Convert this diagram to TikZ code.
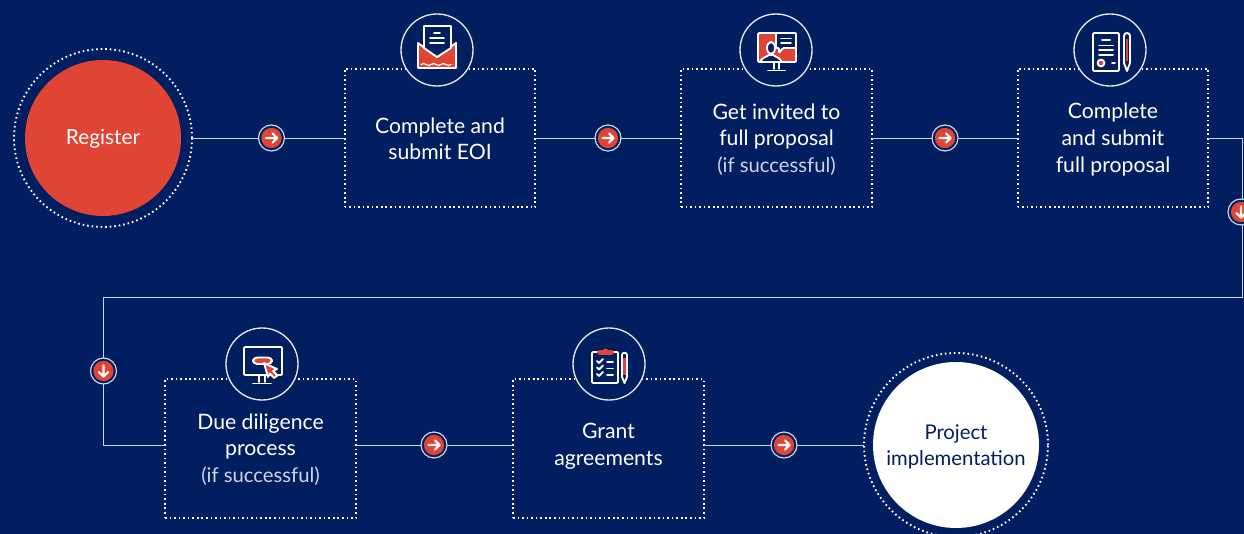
\documentclass[tikz,border=0pt]{standalone}
\usepackage{fontspec}
\setmainfont{Lato}
\definecolor{navy}{RGB}{0,30,96}
\definecolor{redc}{RGB}{224,68,52}
\definecolor{soft}{RGB}{205,212,228}
\tikzset{
  x=0.75pt,y=-0.75pt,
  dots/.style={draw=white,line width=1.4pt,dash pattern=on 1.2pt off 2.2pt},
  stepbox/.style={dots,minimum width=143pt,minimum height=104pt,outer sep=0pt,inner sep=0pt},
  steptext/.style={align=center,text=white,inner sep=0pt,font=\fontsize{15.9}{19.9}\selectfont},
  conn/.style={draw=soft,line width=0.7pt},
  ring/.style={circle,dots,inner sep=0pt,outer sep=0pt},
  disc/.style={circle,inner sep=0pt,outer sep=0pt,minimum size=117pt},
  disctext/.style={align=center,inner sep=0pt,font=\fontsize{15.6}{19.9}\selectfont},
  iconring/.style={circle,draw=white!90!navy,line width=1pt,fill=navy,minimum size=54pt,inner sep=0pt},
  btn/.style={circle,draw=soft,line width=0.9pt,fill=navy,minimum size=19.5pt,inner sep=0pt,outer sep=0pt},
  btnr/.style={btn,path picture={
     \fill[redc] (path picture bounding box.center) circle (7.6pt);
     \draw[white,line width=1.6pt,line cap=round,line join=round,shift={(path picture bounding box.center)}]
       (-4.2pt,0pt)--(4.2pt,0pt) (0.8pt,-3.4pt)--(4.2pt,0pt)--(0.8pt,3.4pt);}},
  btnd/.style={btn,path picture={
     \fill[redc] (path picture bounding box.center) circle (7.6pt);
     \draw[white,line width=1.6pt,line cap=round,line join=round,shift={(path picture bounding box.center)}]
       (0pt,4.2pt)--(0pt,-4.2pt) (-3.4pt,-0.8pt)--(0pt,-4.2pt)--(3.4pt,-0.8pt);}},
  wl/.style={draw=white,line width=1.4pt,line join=round,line cap=round},
  wf/.style={wl,fill=navy},
  rf/.style={wl,fill=redc},
}
\newcommand{\softtext}[1]{{\fontsize{15.2}{19.9}\selectfont\color{soft}#1}}
\begin{document}
\begin{tikzpicture}
\path[use as bounding box,clip] (0,0) rectangle (1244,534);
\fill[navy] (0,0) rectangle (1244,534);

% start and end discs
\node[ring,minimum size=133.5pt] (regring) at (103,138) {};
\node[disc,fill=redc] (reg) at (103,138) {};
\node[disctext,text=white] (regt) at (103,139) {Register};
\node[ring,minimum size=138pt] (prring) at (956,445) {};
\node[disc,fill=white,minimum size=124.5pt] (pr) at (956,445) {};
\node[disctext,text=navy,font=\fontsize{15.2}{19.9}\selectfont] (prt) at (956,447) {Project\\implementation};

% step boxes
\node[stepbox] (b1) at (440,138) {};
\node[stepbox] (b2) at (776.5,138) {};
\node[stepbox] (b3) at (1113,138) {};
\node[stepbox] (b4) at (260.5,448.5) {};
\node[stepbox] (b5) at (608.5,448.5) {};
\node[steptext] (t1) at (440,139) {Complete and\\submit EOI};
\node[steptext] (t2) at (776.5,139.5) {Get invited to\\full proposal\\\softtext{(if successful)}};
\node[steptext] (t3) at (1113,139.5) {Complete\\and submit\\full proposal};
\node[steptext] (t4) at (260.5,449.5) {Due diligence\\process\\\softtext{(if successful)}};
\node[steptext] (t5) at (608.5,446.5) {Grant\\agreements};

% free corners of the long connector
\coordinate (c1) at (1242,138);
\coordinate (c2) at (1242,297);
\coordinate (c3) at (103,297);
\coordinate (c4) at (103,445);

% connectors
\draw[conn] (regring.east) -- (b1.west);
\draw[conn] (b1.east) -- (b2.west);
\draw[conn] (b2.east) -- (b3.west);
\draw[conn] (b3.east) -- (c1) -- (c2) -- (c3) -- (c4) -- (c4 -| b4.west);
\draw[conn] (b4.east |- c4) -- (b5.west |- c4);
\draw[conn] (b5.east |- c4) -- (prring.west);

% buttons on connectors
\node[btnr] (a1) at (271.5,138) {};
\node[btnr] (a2) at (608,138) {};
\node[btnr] (a3) at (945,138) {};
\node[btnd] (a4) at (1241,212) {};
\node[btnd] (a5) at (103.5,371) {};
\node[btnr] (a6) at (434,445) {};
\node[btnr] (a7) at (784,445) {};

% icon rings
\node[iconring] (i1) at (437,50) {};
\node[iconring] (i2) at (776,50) {};
\node[iconring] (i3) at (1110,50) {};
\node[iconring] (i4) at (262,364) {};
\node[iconring] (i5) at (609,364) {};

% icon 1: envelope
\begin{scope}[shift={(437,50)}]
  \path[rf] (-19,-7) -- (-19,18) -- (19,18) -- (19,-7) -- (0,7) -- cycle;
  \path[wf] (-13,-24) -- (14,-24) -- (14,-2) -- (0,7) -- (-13,-2) -- cycle;
  \draw[wl] (-3,-17) -- (3,-17) (-7,-12) -- (7,-12) (-7,-7) -- (7,-7);
  \draw[wl,line width=.9pt] (-16,14.5) to[bend left=40] (-11,14.5) to[bend right=40] (-6,14.5)
     to[bend left=40] (-1,14.5) to[bend right=40] (4,14.5) to[bend left=40] (9,14.5) to[bend right=40] (14,14.5);
\end{scope}

% icon 2: monitor with person and speech bubble
\begin{scope}[shift={(776,50)}]
  \path[rf,rounded corners=0.8pt] (-18,-17) rectangle (20,12);
  \draw[wl] (-2,12) -- (-2,19) (3,12) -- (3,19) (-8,20.5) -- (9,20.5);
  \path[wf,rounded corners=0.8pt] (0,-17) -- (20,-17) -- (20,-2) -- (7,-2) -- (3,3) -- (3,-2) -- (0,-2) -- cycle;
  \draw[wl] (5,-11.5) -- (15,-11.5) (5,-7) -- (15,-7);
  \path[wf] (-5,-2) ellipse (4 and 6);
  \path[wf] (-16,12) .. controls (-14,7) and (-9,7) .. (-7,5) -- (-3,5) .. controls (0,7) and (4,8) .. (6,12) -- cycle;
\end{scope}

% icon 3: document and pen
\begin{scope}[shift={(1110,50)}]
  \path[wl,rounded corners=0.8pt] (-17,-17) rectangle (9,21);
  \draw[wl] (-8,-10) -- (0,-10) (-11,-4.5) -- (3,-4.5) (-11,0) -- (3,0) (-11,5) -- (3,5);
  \draw[wl] (2,13) -- (5,13);
  \path[wl,fill=redc] (-9,13) circle (3.4);
  \path[wl] (14,-14) .. controls (14,-18) and (20,-18) .. (20,-14) -- (20,13) -- (17,21) -- (14,13) -- cycle;
  \fill[redc] (15.6,-11) rectangle (18.4,11);
\end{scope}

% icon 4: monitor with cursor
\begin{scope}[shift={(262,364)}]
  \path[wl,rounded corners=0.8pt] (-18,-17) rectangle (20,11);
  \draw[wl] (-3,11) -- (-3,18) (3,11) -- (3,18) (-9,19.5) -- (9,19.5);
  \path[wl,fill=redc,rounded corners=3pt] (-9,-6.5) rectangle (10,0);
  \path[wf,fill=redc] (2,-1) -- (15,5) -- (11,7) -- (15.5,11.5) -- (12,14) -- (8,9.5) -- (6,13) -- cycle;
\end{scope}

% icon 5: clipboard and pen
\begin{scope}[shift={(609,364)}]
  \path[wl,rounded corners=0.8pt] (-17,-12) rectangle (9,19);
  \path[rf,draw=redc,rounded corners=1pt] (-11,-13) rectangle (4,-10);
  \fill[redc] (-3.5,-13) circle (2.5);
  \draw[wl] (-12,-3) -- (-10,-1) -- (-6,-5) (-12,3.5) -- (-10,5.5) -- (-6,1.5) (-12,10) -- (-10,12) -- (-6,8);
  \draw[wl] (-2,-2) -- (4,-2) (-2,4.5) -- (4,4.5) (-2,11) -- (4,11);
  \path[wl] (13,-9) .. controls (13,-12) and (18,-12) .. (18,-9) -- (18,13) -- (15.5,19) -- (13,13) -- cycle;
  \fill[redc] (14.4,-6) rectangle (16.6,11);
\end{scope}
\end{tikzpicture}
\end{document}
